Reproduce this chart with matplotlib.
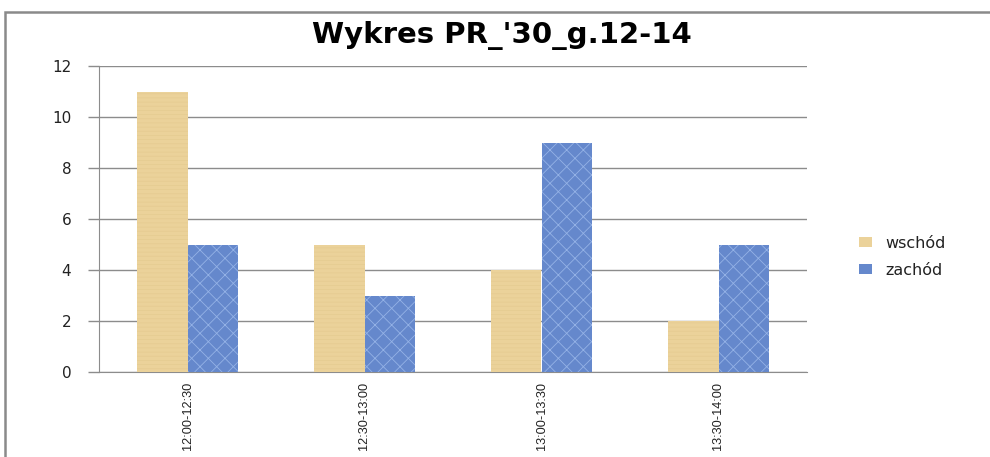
import matplotlib
matplotlib.use("Agg")
import matplotlib.pyplot as plt
from matplotlib.patches import Rectangle, Patch
from matplotlib import font_manager
import numpy as np

categories = ["12:00-12:30", "12:30-13:00", "13:00-13:30", "13:30-14:00"]
wschod = [11, 5, 4, 2]
zachod = [5, 3, 9, 5]
series_names = ["wschód", "zachód"]
title = "Wykres PR_'30_g.12-14"

c_w = "#EBD29A"
c_z = "#6588CC"


def have_font(name):
    try:
        font_manager.findfont(font_manager.FontProperties(family=name),
                              fallback_to_default=False)
        return True
    except Exception:
        return False


if have_font("Liberation Sans Narrow"):
    xfont, xsize = "Liberation Sans Narrow", 10.5
else:
    xfont, xsize = "Liberation Sans", 9.2

fig = plt.figure(figsize=(9.9, 4.57), dpi=100)
fig.patch.set_facecolor("white")

# outer frame of the embedded chart
fig.patches.append(Rectangle((5/990, -0.1), 1.2, 1 - 12/457 + 0.1,
                             transform=fig.transFigure, fill=False,
                             edgecolor="#8a8a8a", lw=1.8, zorder=0))

ax = fig.add_axes([99/990, 1 - 372/457, (807 - 99)/990, (372 - 66)/457])
x = np.arange(len(categories))
w = 0.285
plt.rcParams['hatch.linewidth'] = 0.6
b1 = ax.bar(x - w/2, wschod, w, color=c_w, edgecolor="#E6CC92", hatch="----",
            linewidth=0, zorder=3)
b2 = ax.bar(x + w/2, zachod, w, color=c_z, edgecolor="#94B2E6", hatch="xx",
            linewidth=0, zorder=3)

ax.set_xlim(-0.5, len(categories) - 0.5)
ax.set_ylim(0, 12)
ax.set_yticks(range(0, 13, 2))
ax.yaxis.grid(True, color="#8c8c8c", lw=1, zorder=0)
ax.set_axisbelow(True)
for s in ["top", "right"]:
    ax.spines[s].set_visible(False)
ax.spines["left"].set_color("#8c8c8c")
ax.spines["bottom"].set_color("#8c8c8c")
ax.tick_params(axis="y", direction="out", length=8, width=1, color="#8c8c8c",
               pad=12, labelsize=11, labelcolor="#222222")
ax.tick_params(axis="x", length=0, pad=7)
ax.set_xticks(x)
ax.set_xticklabels(categories, rotation=90, fontsize=xsize,
                   family=[xfont, "DejaVu Sans"], color="#222222")

fig.text(502/990, 1 - 43/457, title, ha="center", va="baseline",
         fontsize=21, fontweight="bold", family=["DejaVu Sans"])

handles = [Patch(facecolor=c_w, edgecolor="none"),
           Patch(facecolor=c_z, edgecolor="none")]
fig.legend(handles, series_names, loc="center left",
           bbox_to_anchor=(845/990, 1 - 257/457), frameon=False,
           fontsize=11.5, handlelength=0.8, handleheight=0.6,
           handletextpad=0.8, labelspacing=0.75, labelcolor="#222222")

fig.savefig("out.png", dpi=100)
